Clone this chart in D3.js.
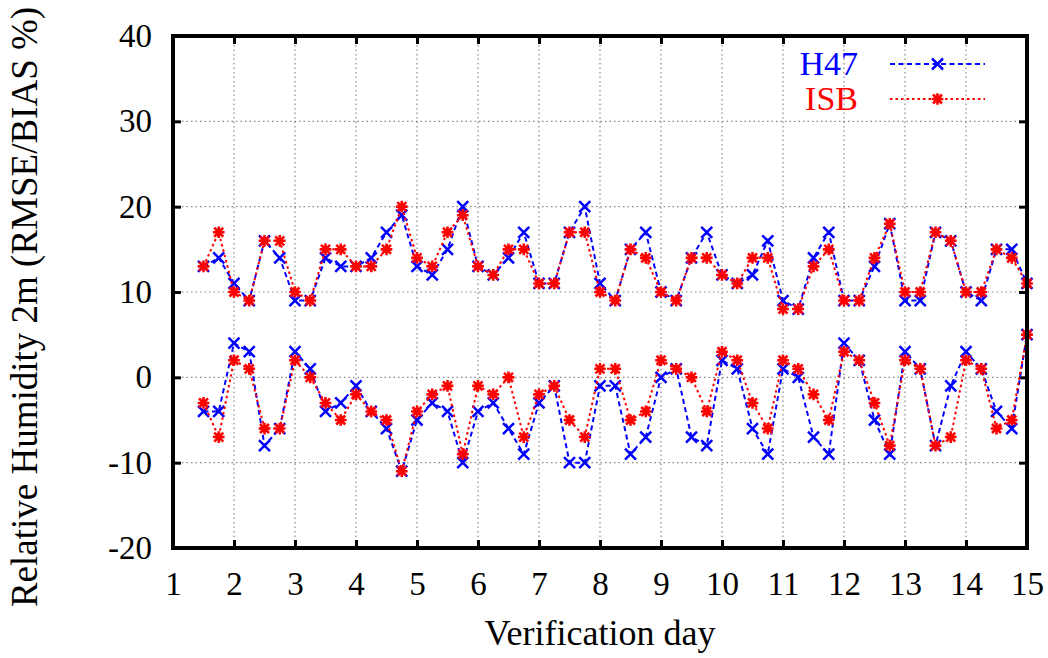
<!DOCTYPE html>
<html>
<head>
<meta charset="utf-8">
<script src="https://cdn.jsdelivr.net/npm/d3@7"></script>
<style>
  body { margin: 0; background: #fff; }
  svg text { font-family: "Liberation Serif", "Times New Roman", serif !important; }
</style>
</head>
<body>
<div id="chart"></div>
<script>
const width = 1048;
const height = 658;

// verification day (x) for every point
const days = [1.5, 1.75, 2, 2.25, 2.5, 2.75, 3, 3.25, 3.5, 3.75, 4, 4.25, 4.5, 4.75,
  5, 5.25, 5.5, 5.75, 6, 6.25, 6.5, 6.75, 7, 7.25, 7.5, 7.75, 8, 8.25, 8.5, 8.75,
  9, 9.25, 9.5, 9.75, 10, 10.25, 10.5, 10.75, 11, 11.25, 11.5, 11.75, 12, 12.25,
  12.5, 12.75, 13, 13.25, 13.5, 13.75, 14, 14.25, 14.5, 14.75, 15];

// RMSE (upper curves)
const h47Rmse = [13, 14, 11, 9, 16, 14, 9, 9, 14, 13, 13, 14, 17, 19, 13, 12, 15, 20,
  13, 12, 14, 17, 11, 11, 17, 20, 11, 9, 15, 17, 10, 9, 14, 17, 12, 11, 12, 16,
  9, 8, 14, 17, 9, 9, 13, 18, 9, 9, 17, 16, 10, 9, 15, 15, 11];
const isbRmse = [13, 17, 10, 9, 16, 16, 10, 9, 15, 15, 13, 13, 15, 20, 14, 13, 17, 19,
  13, 12, 15, 15, 11, 11, 17, 17, 10, 9, 15, 14, 10, 9, 14, 14, 12, 11, 14, 14,
  8, 8, 13, 15, 9, 9, 14, 18, 10, 10, 17, 16, 10, 10, 15, 14, 11];

// BIAS (lower curves)
const h47Bias = [-4, -4, 4, 3, -8, -6, 3, 1, -4, -3, -1, -4, -6, -11, -5, -3, -4, -10,
  -4, -3, -6, -9, -3, -1, -10, -10, -1, -1, -9, -7, 0, 1, -7, -8, 2, 1, -6, -9,
  1, 0, -7, -9, 4, 2, -5, -9, 3, 1, -8, -1, 3, 1, -4, -6, 5];
const isbBias = [-3, -7, 2, 1, -6, -6, 2, 0, -3, -5, -2, -4, -5, -11, -4, -2, -1, -9,
  -1, -2, 0, -7, -2, -1, -5, -7, 1, 1, -5, -4, 2, 1, 0, -4, 3, 2, -3, -6,
  2, 1, -2, -5, 3, 2, -3, -8, 2, 1, -8, -7, 2, 1, -6, -5, 5];

const xTicks = d3.range(1, 16);
const yTicks = [-20, -10, 0, 10, 20, 30, 40];

const plot = { left: 173, right: 1027, top: 36, bottom: 548 };

const svg = d3.select("#chart").append("svg")
  .attr("width", width)
  .attr("height", height)
  .style("display", "block");

const x = d3.scaleLinear().domain([1, 15]).range([plot.left, plot.right]);
const y = d3.scaleLinear().domain([-20, 40]).range([plot.bottom, plot.top]);

// dotted grid
const grid = svg.append("g")
  .attr("stroke", "#888")
  .attr("stroke-width", 1.2)
  .attr("stroke-dasharray", "1.5,3");
grid.selectAll("line.gx")
  .data(xTicks.slice(1, -1))
  .join("line")
  .attr("class", "gx")
  .attr("x1", d => x(d)).attr("x2", d => x(d))
  .attr("y1", plot.top).attr("y2", plot.bottom);
grid.selectAll("line.gy")
  .data(yTicks.slice(1, -1))
  .join("line")
  .attr("class", "gy")
  .attr("x1", plot.left).attr("x2", plot.right)
  .attr("y1", d => y(d)).attr("y2", d => y(d));

// axes (ticks inside, mirrored like gnuplot)
const tickLen = 8;
const plain = d => String(d); // keep ascii hyphen for negatives
const xAxisB = d3.axisBottom(x).tickValues(xTicks).tickSize(-tickLen).tickPadding(24).tickFormat(plain);
const xAxisT = d3.axisTop(x).tickValues(xTicks).tickSize(-tickLen).tickFormat("");
const yAxisL = d3.axisLeft(y).tickValues(yTicks).tickSize(-tickLen).tickPadding(21).tickFormat(plain);
const yAxisR = d3.axisRight(y).tickValues(yTicks).tickSize(-tickLen).tickFormat("");

function styleAxis(g) {
  g.attr("font-family", null).attr("font-size", null);
  g.select(".domain").remove();
  g.selectAll(".tick line").attr("stroke", "#000").attr("stroke-width", 3);
  g.selectAll(".tick text")
    .attr("fill", "#000")
    .style("font-size", "33px");
}

svg.append("g").attr("transform", `translate(0,${plot.bottom})`).call(xAxisB).call(styleAxis);
svg.append("g").attr("transform", `translate(0,${plot.top})`).call(xAxisT).call(styleAxis);
svg.append("g").attr("transform", `translate(${plot.left},0)`).call(yAxisL).call(styleAxis);
svg.append("g").attr("transform", `translate(${plot.right},0)`).call(yAxisR).call(styleAxis);

// series
const series = [
  { values: h47Rmse, color: "#0000ff", dash: "5,3.5", marker: "x" },
  { values: h47Bias, color: "#0000ff", dash: "5,3.5", marker: "x" },
  { values: isbRmse, color: "#ff0000", dash: "2.5,3", marker: "star" },
  { values: isbBias, color: "#ff0000", dash: "2.5,3", marker: "star" },
];

const line = d3.line().x((d, i) => x(days[i])).y(d => y(d));

const crossPath = r => `M${-r},${-r}L${r},${r}M${-r},${r}L${r},${-r}`;
const starPath = r => crossPath(r) + `M${-r * 1.3},0L${r * 1.3},0M0,${-r * 1.3}L0,${r * 1.3}`;

function drawMarker(sel, s) {
  sel.attr("d", s.marker === "x" ? crossPath(5.5) : starPath(4.5))
    .attr("fill", "none")
    .attr("stroke", s.color)
    .attr("stroke-width", s.marker === "x" ? 2.5 : 2.6);
}

series.forEach(s => {
  const g = svg.append("g");
  g.append("path")
    .datum(s.values)
    .attr("d", line)
    .attr("fill", "none")
    .attr("stroke", s.color)
    .attr("stroke-width", 2)
    .attr("stroke-dasharray", s.dash);
  g.selectAll("path.pt")
    .data(s.values)
    .join("path")
    .attr("class", "pt")
    .attr("transform", (d, i) => `translate(${x(days[i])},${y(d)})`)
    .call(drawMarker, s);
});

// border
svg.append("rect")
  .attr("x", plot.left).attr("y", plot.top)
  .attr("width", plot.right - plot.left)
  .attr("height", plot.bottom - plot.top)
  .attr("fill", "none")
  .attr("stroke", "#000")
  .attr("stroke-width", 4);

// legend
const legend = [
  { name: "H47", color: "#0000ff", dash: "5,3.5", marker: "x", y: 64 },
  { name: "ISB", color: "#ff0000", dash: "2.5,3", marker: "star", y: 99 },
];
legend.forEach(l => {
  svg.append("text")
    .attr("x", 858).attr("y", l.y + 11)
    .attr("text-anchor", "end")
    .attr("fill", l.color)
    .style("font-size", "34px")
    .text(l.name);
  svg.append("line")
    .attr("x1", 890).attr("x2", 985)
    .attr("y1", l.y).attr("y2", l.y)
    .attr("stroke", l.color)
    .attr("stroke-width", 2)
    .attr("stroke-dasharray", l.dash);
  svg.append("path")
    .attr("transform", `translate(937.5,${l.y})`)
    .call(drawMarker, l);
});

// axis titles
svg.append("text")
  .attr("x", (plot.left + plot.right) / 2)
  .attr("y", 645)
  .attr("text-anchor", "middle")
  .style("font-size", "36px")
  .text("Verification day");

svg.append("text")
  .attr("transform", `translate(37,307) rotate(-90)`)
  .attr("text-anchor", "middle")
  .style("font-size", "37px")
  .text("Relative Humidity 2m (RMSE/BIAS %)");
</script>
</body>
</html>
